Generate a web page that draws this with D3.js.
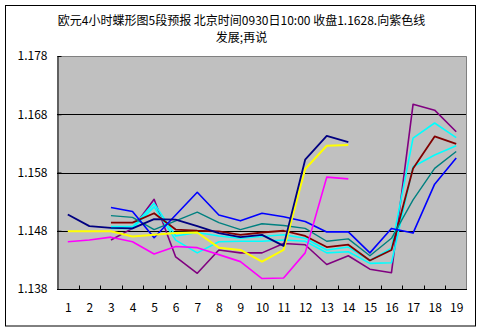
<!DOCTYPE html>
<html>
<head>
<meta charset="utf-8">
<script src="https://cdn.jsdelivr.net/npm/d3@7/dist/d3.min.js"></script>
<style>
  html, body { margin: 0; padding: 0; background: #fff; }
  svg { display: block; }
  text { font-family: "Noto Sans CJK SC", "Noto Sans", sans-serif; fill: #000; }
</style>
</head>
<body>
<svg id="chart" width="483" height="332"></svg>
<script>
// Bar periods shown on the x axis
const categories = d3.range(1, 20).map(String);
const yTicks = [1.138, 1.148, 1.158, 1.168, 1.178];
const yTickLabels = ["1.138", "1.148", "1.158", "1.168", "1.178"];
const titleLines = ["欧元4小时蝶形图5段预报 北京时间0930日10:00 收盘1.1628.向紫色线", "发展;再说"];

// First forecast set: periods 1–14
const navyA = [1.1508, 1.1488, 1.1485, 1.1484, 1.1500, 1.1499, 1.1488, 1.1476, 1.1469, 1.1473, 1.1454, 1.1602, 1.1643, 1.1632, null, null, null, null, null];
const yellowA = [1.1479, 1.1479, 1.1479, 1.1470, 1.1473, 1.1476, 1.1477, 1.1451, 1.1447, 1.1427, 1.1447, 1.1586, 1.1626, 1.1627, null, null, null, null, null];
const magentaA = [1.1461, 1.1464, 1.1469, 1.1461, 1.1440, 1.1453, 1.1451, 1.1439, 1.1427, 1.1398, 1.1399, 1.1442, 1.1572, 1.1569, null, null, null, null, null];

// Second forecast set: periods 3–19
const blueB = [null, null, 1.1520, 1.1513, 1.1468, 1.1507, 1.1546, 1.1507, 1.1497, 1.1510, 1.1504, 1.1496, 1.1478, 1.1478, 1.1442, 1.1484, 1.1476, 1.1560, 1.1605];
const tealB = [null, null, 1.1506, 1.1503, 1.1482, 1.1497, 1.1512, 1.1494, 1.1482, 1.1492, 1.1489, 1.1484, 1.1462, 1.1466, 1.1437, 1.1467, 1.1533, 1.1587, 1.1616];
const darkRedB = [null, null, 1.1494, 1.1494, 1.1510, 1.1482, 1.1480, 1.1479, 1.1473, 1.1477, 1.1480, 1.1471, 1.1452, 1.1456, 1.1429, 1.1447, 1.1587, 1.1642, 1.1629];
const cyanB1 = [null, null, 1.1487, 1.1487, 1.1527, 1.1471, 1.1477, 1.1471, 1.1467, 1.1470, 1.1473, 1.1467, 1.1447, 1.1452, 1.1429, 1.1450, 1.1639, 1.1665, 1.1640];
const cyanB2 = [null, null, 1.1484, 1.1484, 1.1521, 1.1464, 1.1442, 1.1461, 1.1462, 1.1462, 1.1464, 1.1462, 1.1442, 1.1444, 1.1424, 1.1425, 1.1590, 1.1610, 1.1626];
const purpleB = [null, null, 1.1464, 1.1484, 1.1534, 1.1435, 1.1407, 1.1447, 1.1442, 1.1442, 1.1458, 1.1456, 1.1422, 1.1437, 1.1414, 1.1408, 1.1697, 1.1687, 1.1650];

const seriesList = [
  { values: purpleB, color: "#800080", width: 1.6 },
  { values: cyanB2, color: "#00FFFF", width: 1.6 },
  { values: cyanB1, color: "#00FFFF", width: 1.6 },
  { values: darkRedB, color: "#800000", width: 1.8 },
  { values: tealB, color: "#008080", width: 1.4 },
  { values: blueB, color: "#0000FF", width: 1.6 },
  { values: magentaA, color: "#FF00FF", width: 1.6 },
  { values: yellowA, color: "#FFFF00", width: 2 },
  { values: navyA, color: "#000080", width: 1.8 }
];

const svg = d3.select("#chart");
const plot = { left: 57, right: 467, top: 56, bottom: 289 };

// Outer frame
svg.append("rect")
  .attr("x", 5.5).attr("y", 5.5).attr("width", 470).attr("height", 320.5)
  .attr("fill", "#fff").attr("stroke", "#000").attr("stroke-width", 1);

// Title, two lines
svg.selectAll("text.title").data(titleLines).join("text")
  .attr("class", "title")
  .attr("x", 241.5)
  .attr("y", (d, i) => 24.5 + i * 17.5)
  .attr("text-anchor", "middle")
  .attr("font-size", 12)
  .text(d => d);

const x = d3.scalePoint().domain(categories).range([plot.left, plot.right]).padding(0.5);
const y = d3.scaleLinear().domain([1.138, 1.178]).range([plot.bottom, plot.top]);

// Plot background
svg.append("rect")
  .attr("x", plot.left).attr("y", plot.top)
  .attr("width", plot.right - plot.left).attr("height", plot.bottom - plot.top)
  .attr("fill", "#C0C0C0");

// Top and right edges of the plot area
svg.append("path")
  .attr("d", `M${plot.left},${plot.top + 0.5}H${plot.right - 0.5}V${plot.bottom}`)
  .attr("fill", "none").attr("stroke", "#808080").attr("stroke-width", 1);

// Horizontal gridlines
svg.append("g").selectAll("line").data(yTicks.filter(v => v > 1.138 && v < 1.178)).join("line")
  .attr("x1", plot.left).attr("x2", plot.right - 1)
  .attr("y1", d => Math.round(y(d)) + 0.5).attr("y2", d => Math.round(y(d)) + 0.5)
  .attr("stroke", "#000").attr("stroke-width", 1);

// Series lines
const line = d3.line()
  .defined(d => d !== null)
  .x((d, i) => x(categories[i]))
  .y(d => y(d));

svg.append("g").selectAll("path").data(seriesList).join("path")
  .attr("d", s => line(s.values))
  .attr("fill", "none")
  .attr("stroke", s => s.color)
  .attr("stroke-width", s => s.width)
  .attr("stroke-linejoin", "round");

// Y axis
const yAxis = d3.axisLeft(y).tickValues(yTicks)
  .tickFormat((d, i) => yTickLabels[i]).tickSizeInner(-4).tickSizeOuter(0).tickPadding(10);
const gy = svg.append("g").attr("transform", `translate(${plot.left + 0.5},0)`).call(yAxis);
gy.select(".domain").attr("stroke", "#000");
gy.selectAll(".tick line").attr("stroke", "#000");
gy.selectAll("text").attr("font-size", 12).attr("fill", "#000")
  .attr("font-family", "'Noto Sans CJK SC', sans-serif");

// X axis: labels under each period, tick marks between periods
const xAxis = d3.axisBottom(x).tickSize(0).tickPadding(14);
const gx = svg.append("g").attr("transform", `translate(0,${plot.bottom + 0.5})`).call(xAxis);
gx.select(".domain").remove();
gx.selectAll("text").attr("font-size", 12).attr("fill", "#000")
  .attr("font-family", "'Noto Sans CJK SC', sans-serif");
gx.append("line")
  .attr("x1", plot.left).attr("x2", plot.right).attr("y1", 0).attr("y2", 0)
  .attr("stroke", "#000");
const step = x.step();
gx.selectAll("line.sep").data(d3.range(1, categories.length)).join("line")
  .attr("class", "sep")
  .attr("x1", i => Math.round(plot.left + i * step) + 0.5)
  .attr("x2", i => Math.round(plot.left + i * step) + 0.5)
  .attr("y1", 0).attr("y2", -4)
  .attr("stroke", "#000");
</script>
</body>
</html>
